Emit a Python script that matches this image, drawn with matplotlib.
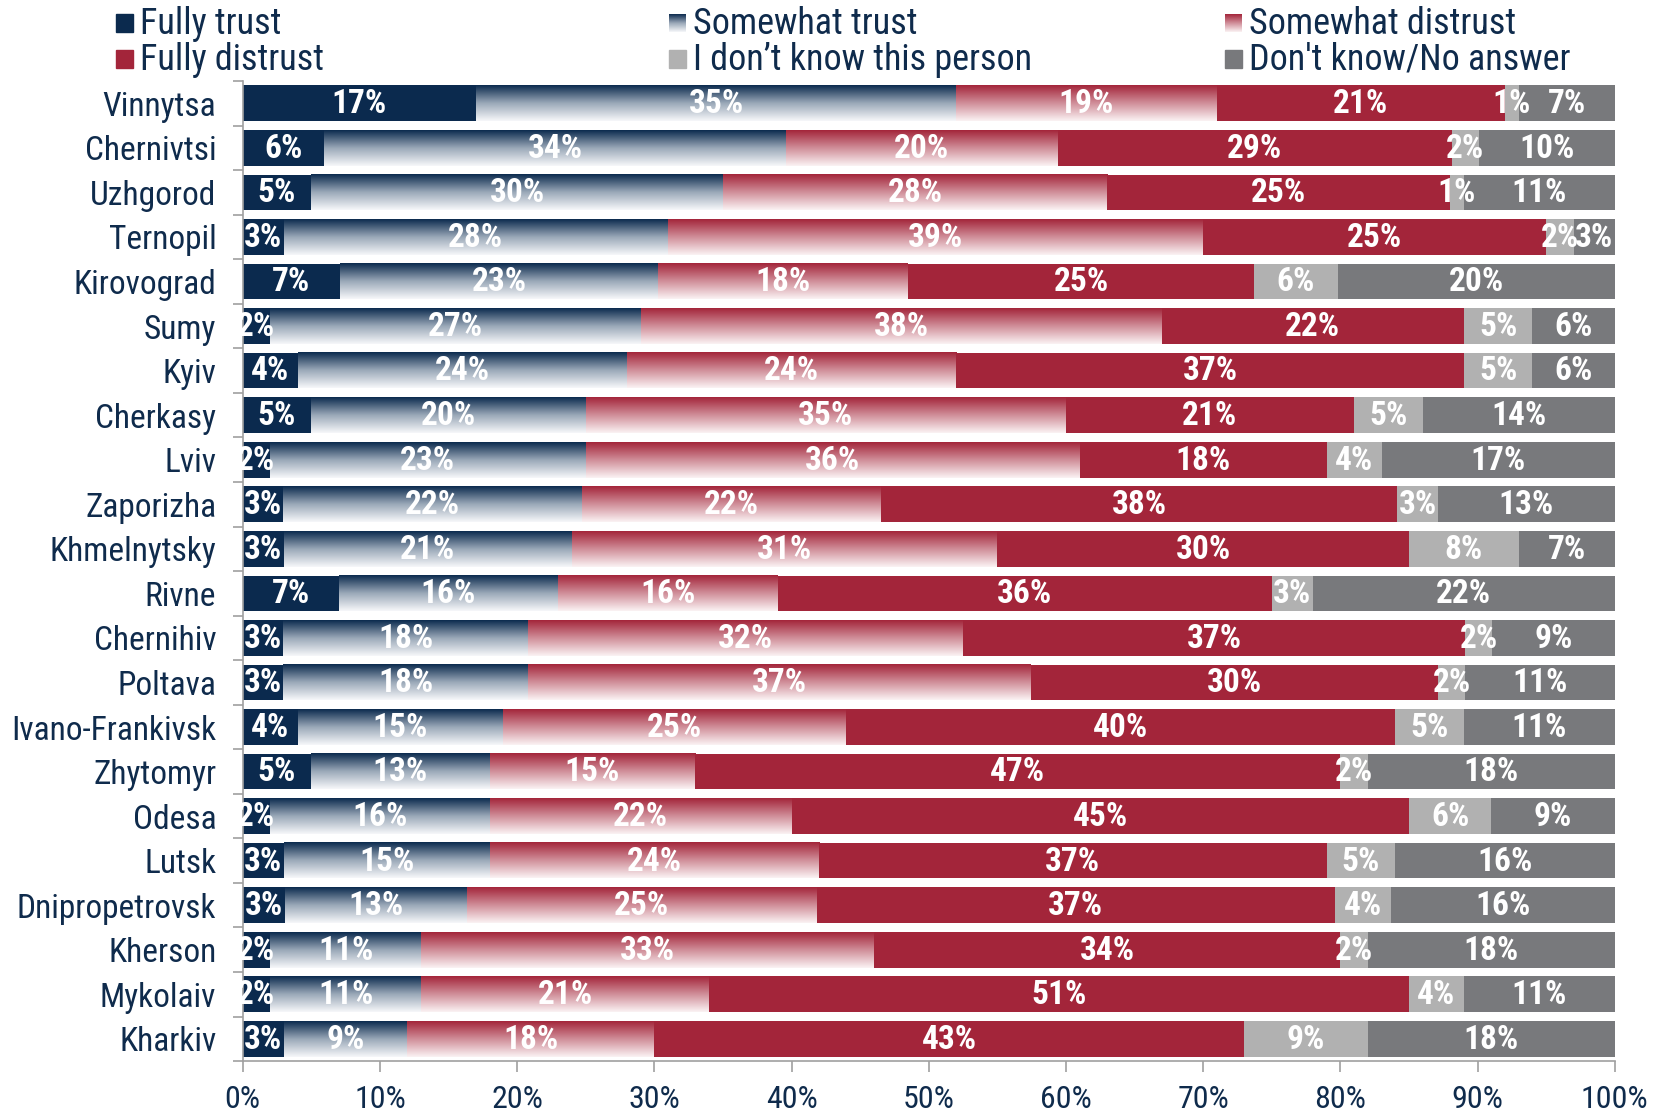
import numpy as np
import matplotlib
matplotlib.use("Agg")
import matplotlib.pyplot as plt
from matplotlib import font_manager
from matplotlib.colors import LinearSegmentedColormap

# data, top row first
cities = ["Vinnytsa", "Chernivtsi", "Uzhgorod", "Ternopil", "Kirovograd", "Sumy",
          "Kyiv", "Cherkasy", "Lviv", "Zaporizha", "Khmelnytsky", "Rivne",
          "Chernihiv", "Poltava", "Ivano-Frankivsk", "Zhytomyr", "Odesa", "Lutsk",
          "Dnipropetrovsk", "Kherson", "Mykolaiv", "Kharkiv"]
fully_trust = [17, 6, 5, 3, 7, 2, 4, 5, 2, 3, 3, 7, 3, 3, 4, 5, 2, 3, 3, 2, 2, 3]
somewhat_trust = [35, 34, 30, 28, 23, 27, 24, 20, 23, 22, 21, 16, 18, 18, 15, 13, 16, 15, 13, 11, 11, 9]
somewhat_distrust = [19, 20, 28, 39, 18, 38, 24, 35, 36, 22, 31, 16, 32, 37, 25, 15, 22, 24, 25, 33, 21, 18]
fully_distrust = [21, 29, 25, 25, 25, 22, 37, 21, 18, 38, 30, 36, 37, 30, 40, 47, 45, 37, 37, 34, 51, 43]
dont_know_person = [1, 2, 1, 2, 6, 5, 5, 5, 4, 3, 8, 3, 2, 2, 5, 2, 6, 5, 4, 2, 4, 9]
no_answer = [7, 10, 11, 3, 20, 6, 6, 14, 17, 13, 7, 22, 9, 11, 11, 18, 9, 16, 16, 18, 11, 18]
series_names = ["Fully trust", "Somewhat trust", "Somewhat distrust",
                "Fully distrust", "I don\u2019t know this person", "Don't know/No answer"]
x_ticks = [0, 10, 20, 30, 40, 50, 60, 70, 80, 90, 100]

navy = "#0b2a4e"
red = "#a3253a"
light_gray = "#b1b1b1"
dark_gray = "#78797c"
text_col = "#0f2b4c"

# pick a narrow font if there is one
installed = {f.name for f in font_manager.fontManager.ttflist}
font = "DejaVu Sans"
for cand in ["Roboto Condensed", "Liberation Sans Narrow", "Open Sans Condensed", "DejaVu Sans Condensed"]:
    if cand in installed:
        font = cand
        break
plt.rcParams["font.family"] = [font, "DejaVu Sans"]
plt.rcParams["font.stretch"] = "condensed"

trust_cmap = LinearSegmentedColormap.from_list("tr", ["#f7f8fa", "#9aa8b8", navy])
distrust_cmap = LinearSegmentedColormap.from_list("ds", ["#fbf3f4", "#d08e99", red])
grad = np.linspace(0, 1, 256).reshape(-1, 1)

fig = plt.figure(figsize=(16.69, 11.17), dpi=100)
ax = fig.add_axes([0.1454, 0.050, 0.8221, 0.8775])

data = np.array([fully_trust, somewhat_trust, somewhat_distrust,
                 fully_distrust, dont_know_person, no_answer], dtype=float)
shares = data / data.sum(axis=0) * 100
y = np.arange(len(cities))
h = 0.8
fills = [navy, None, None, red, light_gray, dark_gray]
cmaps = [None, trust_cmap, distrust_cmap, None, None, None]

left = np.zeros(len(cities))
for k in range(len(series_names)):
    w = shares[k]
    if fills[k] is not None:
        ax.barh(y, w, left=left, height=h, color=fills[k], edgecolor="none", zorder=2)
    else:
        for i in range(len(cities)):
            ax.imshow(grad, cmap=cmaps[k], origin="lower", aspect="auto",
                      extent=(left[i], left[i] + w[i], y[i] + h / 2, y[i] - h / 2),
                      interpolation="bilinear", zorder=2)
    for i in range(len(cities)):
        ax.text(left[i] + w[i] / 2, y[i] + 0.02, f"{data[k, i]:.0f}%", ha="center", va="center",
                color="white", fontsize=24, fontweight="bold", zorder=3)
    left = left + w

ax.set_xlim(0, 100)
ax.set_ylim(len(cities) - 0.5, -0.5)
ax.set_xticks(x_ticks)
ax.set_xticklabels([f"{t}%" for t in x_ticks], fontsize=23, color=text_col)
ax.set_yticks(y)
ax.set_yticklabels(cities, fontsize=24, color=text_col)
ax.set_yticks(np.arange(len(cities) + 1) - 0.5, minor=True)
ax.tick_params(axis="y", which="major", length=0, pad=19)
ax.tick_params(axis="y", which="minor", length=7, color="#a0a0a0", width=1.2)
ax.tick_params(axis="x", length=8, color="#a0a0a0", width=1.2, pad=9)
for s in ["top", "right"]:
    ax.spines[s].set_visible(False)
for s in ["left", "bottom"]:
    ax.spines[s].set_color("#a0a0a0")
    ax.spines[s].set_linewidth(1.2)

# legend drawn in pixel space on top
lg = fig.add_axes([0, 0, 1, 1], facecolor="none")
lg.set_xlim(0, 1669)
lg.set_ylim(1117, 0)
lg.axis("off")
col_x = [116, 669, 1225]
row_y = [23, 59]
for k, name in enumerate(series_names):
    cx = col_x[k % 3]
    cy = row_y[k // 3]
    ext = (cx, cx + 17, cy + 9, cy - 9)
    if fills[k] is not None:
        lg.add_patch(plt.Rectangle((cx, cy - 9), 17, 18, color=fills[k]))
    else:
        lg.imshow(grad, cmap=cmaps[k], origin="lower", aspect="auto", extent=ext,
                  interpolation="bilinear")
    lg.text(cx + 24, cy + 1, name, va="center", ha="left", fontsize=26, color=text_col)
lg.set_xlim(0, 1669)
lg.set_ylim(1117, 0)

fig.savefig("out.png", dpi=100)
